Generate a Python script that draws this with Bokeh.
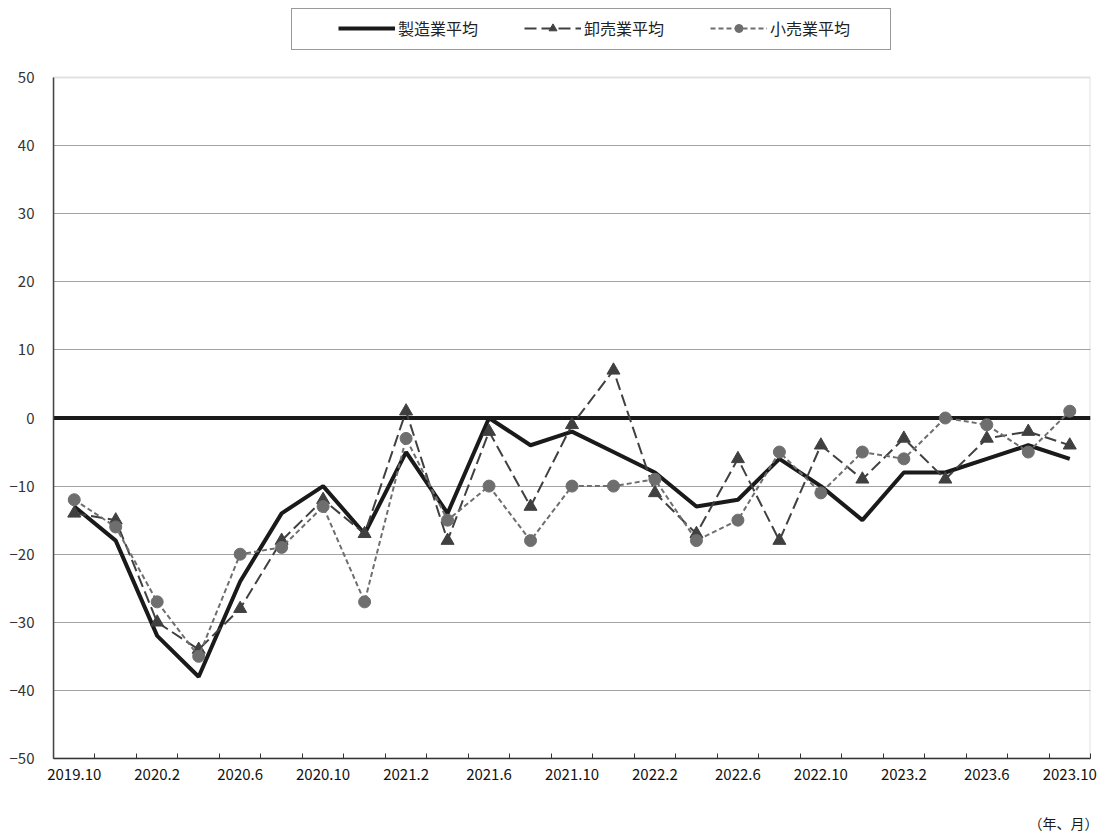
from bokeh.plotting import figure
from bokeh.models import FixedTicker, Span, Legend, LegendItem, Title, BoxAnnotation
from bokeh.embed import file_html
from bokeh.resources import INLINE

periods = ["2019.10", "2019.12", "2020.2", "2020.4", "2020.6", "2020.8", "2020.10", "2020.12",
           "2021.2", "2021.4", "2021.6", "2021.8", "2021.10", "2021.12", "2022.2", "2022.4",
           "2022.6", "2022.8", "2022.10", "2022.12", "2023.2", "2023.4", "2023.6", "2023.8", "2023.10"]
manufacturing = [-13, -18, -32, -38, -24, -14, -10, -17, -5, -14, 0, -4, -2, -5, -8, -13,
                 -12, -6, -10, -15, -8, -8, -6, -4, -6]
wholesale = [-14, -15, -30, -34, -28, -18, -12, -17, 1, -18, -2, -13, -1, 7, -11, -17,
             -6, -18, -4, -9, -3, -9, -3, -2, -4]
retail = [-12, -16, -27, -35, -20, -19, -13, -27, -3, -15, -10, -18, -10, -10, -9, -18,
          -15, -5, -11, -5, -6, 0, -1, -5, 1]
y_ticks = [-50, -40, -30, -20, -10, 0, 10, 20, 30, 40, 50]
y_tick_labels = ["\u221250", "\u221240", "\u221230", "\u221220", "\u221210", "0", "10", "20", "30", "40", "50"]
series_names = ["製造業平均", "卸売業平均", "小売業平均"]
x_unit_label = "（年、月）"

FONT = "Noto Sans CJK JP"
x = list(range(len(periods)))

W, H = 1099, 832
FRAME_L, FRAME_R, FRAME_T, FRAME_B = 53, 1090, 4, 758
PLOT_TOP_PX = 77  # pixel row of the top of the value area (legend sits above it)
y_lo, y_hi = y_ticks[0], y_ticks[-1]
px_per_unit = (FRAME_B - PLOT_TOP_PX) / (y_hi - y_lo)
y_end = y_hi + (PLOT_TOP_PX - FRAME_T) / px_per_unit

p = figure(width=W, height=H, output_backend="svg", toolbar_location=None,
           x_range=(-0.5, len(periods) - 0.5), y_range=(y_lo, y_end),
           min_border_left=FRAME_L, min_border_right=W - FRAME_R,
           min_border_top=FRAME_T, min_border_bottom=H - FRAME_B)
p.outline_line_color = None
p.background_fill_color = "white"
p.border_fill_color = "white"

p.xgrid.visible = False
p.ygrid.ticker = FixedTicker(ticks=y_ticks[1:-1])
p.ygrid.grid_line_color = "#444444"
p.ygrid.grid_line_dash = "1 1"
p.ygrid.grid_line_width = 1

# plot-area border (gray)
p.add_layout(BoxAnnotation(top=y_hi, bottom=y_lo, fill_alpha=0, line_color="#9a9a9a",
                           line_width=2, level="underlay"))

xa = p.xaxis[0]
xa.ticker = FixedTicker(ticks=x[::2], minor_ticks=[i - 0.5 for i in range(len(periods) + 1)])
xa.major_label_overrides = {i: periods[i] for i in x[::2]}
xa.major_tick_line_color = None
xa.major_tick_out = 0
xa.major_tick_in = 0
xa.minor_tick_in = 5
xa.minor_tick_out = 0
xa.minor_tick_line_color = "#333333"
xa.axis_line_color = "#333333"
xa.axis_line_width = 1.5
xa.major_label_standoff = 10
xa.major_label_text_font = FONT
xa.major_label_text_font_size = "15px"
xa.major_label_text_color = "#111111"

ya = p.yaxis[0]
ya.ticker = FixedTicker(ticks=y_ticks)
ya.bounds = (y_lo, y_hi)
ya.major_label_overrides = dict(zip(y_ticks, y_tick_labels))
ya.major_tick_line_color = None
ya.minor_tick_line_color = None
ya.major_tick_out = 0
ya.major_tick_in = 0
ya.axis_line_color = "#444444"
ya.axis_line_width = 1.5
ya.major_label_standoff = 19
ya.major_label_text_font = FONT
ya.major_label_text_font_size = "15px"
ya.major_label_text_color = "#333333"

p.add_layout(Span(location=0, dimension="width", line_color="#1a1a1a", line_width=4, level="underlay"))

r_m = p.line(x, manufacturing, line_color="#1a1a1a", line_width=4)
r_wl = p.line(x, wholesale, line_color="#404040", line_width=2, line_dash="12 5")
r_wp = p.scatter(x, wholesale, marker="triangle", size=13, fill_color="#404040", line_color="#404040")
r_rl = p.line(x, retail, line_color="#6e6e6e", line_width=2, line_dash="5 3")
r_rp = p.scatter(x, retail, marker="circle", size=12, fill_color="#6e6e6e", line_color="#6e6e6e")

dummy = p.line(x=[], y=[], line_alpha=0)
legend_box = Legend(items=[LegendItem(label=" ", renderers=[dummy])], location=(238, FRAME_B - 50),
                    orientation="horizontal", padding=10, margin=0, glyph_width=1, glyph_height=20,
                    label_height=20, label_width=577, label_standoff=0,
                    border_line_color="#333333", border_line_width=1,
                    background_fill_color="white", background_fill_alpha=1)
p.add_layout(legend_box)

legend = Legend(items=[LegendItem(label=series_names[0], renderers=[r_m]),
                       LegendItem(label=series_names[1], renderers=[r_wl, r_wp]),
                       LegendItem(label=series_names[2], renderers=[r_rl, r_rp])],
                location=(285, FRAME_B - 40), orientation="horizontal", padding=0, margin=0,
                spacing=46, glyph_width=57, glyph_height=20, label_height=20, label_width=80,
                label_standoff=3, border_line_color=None, background_fill_alpha=0,
                label_text_font=FONT, label_text_font_size="16px", label_text_color="#222222")
p.add_layout(legend)

# spacer below the axis labels, then the unit label
p.add_layout(Title(text=" ", text_font_size="2px", standoff=24), "below")
p.add_layout(Title(text=x_unit_label, align="right", text_font=FONT, text_font_size="14px",
                   text_font_style="normal", text_color="#1a1a1a", standoff=0, offset=-8), "below")

open("out.html", "w").write(file_html(p, INLINE))
